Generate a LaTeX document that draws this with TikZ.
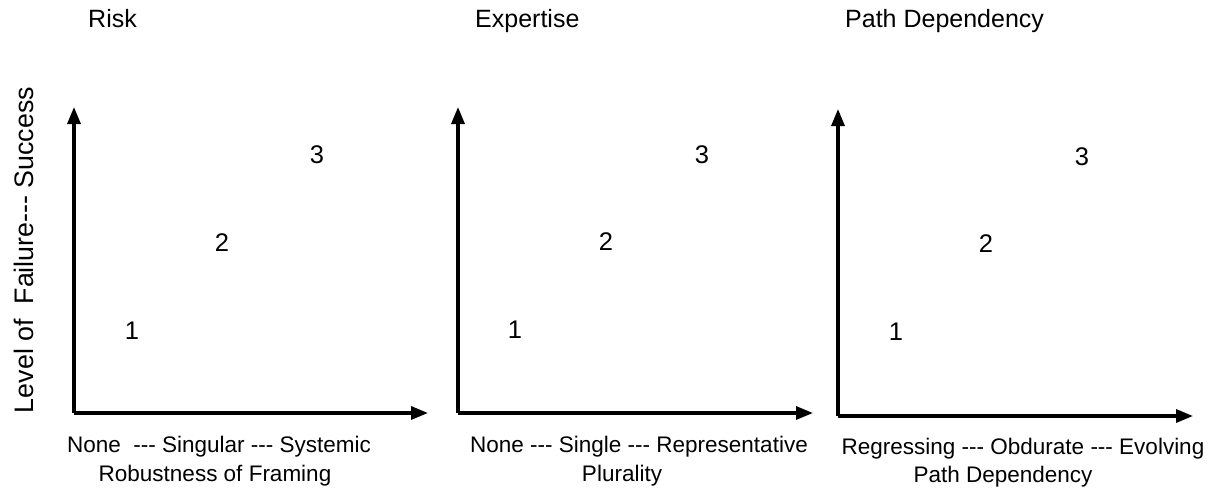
\documentclass[tikz,border=0pt]{standalone}
\usepackage{fontspec}
\setmainfont{Liberation Sans}
\usetikzlibrary{arrows.meta}
\newcommand\ddd{\mbox{-}\mbox{-}\mbox{-}}
\begin{document}
\begin{tikzpicture}[x=1pt,y=-1pt,
  axis/.style={line width=3.2pt,-{Triangle[length=17pt,width=13pt]}},
  ttl/.style={anchor=base west,inner sep=0pt,font=\fontsize{25}{30}\selectfont},
  num/.style={inner sep=0pt,font=\fontsize{25.5}{30}\selectfont},
  lbl/.style={anchor=base,inner sep=0pt,font=\fontsize{22.5}{27}\selectfont},
  ylbl/.style={anchor=base,rotate=90,inner sep=0pt,font=\fontsize{26.8}{30}\selectfont}]
\useasboundingbox[fill=white] (0,0) rectangle (1222,492);
% panel 1
\coordinate (o1) at (74,413);
\coordinate (y1) at (74,107);
\coordinate (x1) at (428,413);
\draw[axis] (o1) -- (y1);
\draw[axis] (o1) -- (x1);
\node[ttl] (t1) at (88,28) {Risk};
\node[num] (a1) at (132,331) {1};
\node[num] (b1) at (222,243) {2};
\node[num] (c1) at (317,155) {3};
\node[lbl] (l1a) at (219,452) {None\ \ \ddd{} Singular \ddd{} Systemic};
\node[lbl] (l1b) at (215,481) {Robustness of Framing};
\node[ylbl] (yl) at (33,250) {Level of\ \ Failure\ddd{} Success};
% panel 2
\coordinate (o2) at (458,413);
\coordinate (y2) at (458,107);
\coordinate (x2) at (813,413);
\draw[axis] (o2) -- (y2);
\draw[axis] (o2) -- (x2);
\node[ttl] (t2) at (475,28) {Expertise};
\node[num] (a2) at (515,330) {1};
\node[num] (b2) at (606,242) {2};
\node[num] (c2) at (702,155) {3};
\node[lbl] (l2a) at (639,452) {None \ddd{} Single \ddd{} Representative};
\node[lbl] (l2b) at (622,481) {Plurality};
% panel 3
\coordinate (o3) at (838,416);
\coordinate (y3) at (838,109);
\coordinate (x3) at (1193,416);
\draw[axis] (o3) -- (y3);
\draw[axis] (o3) -- (x3);
\node[ttl] (t3) at (845,28) {Path Dependency};
\node[num] (a3) at (896,332) {1};
\node[num] (b3) at (986,244) {2};
\node[num] (c3) at (1082,157) {3};
\node[lbl] (l3a) at (1023,454) {Regressing \ddd{} Obdurate \ddd{} Evolving};
\node[lbl] (l3b) at (1003,482) {Path Dependency};
\end{tikzpicture}
\end{document}
